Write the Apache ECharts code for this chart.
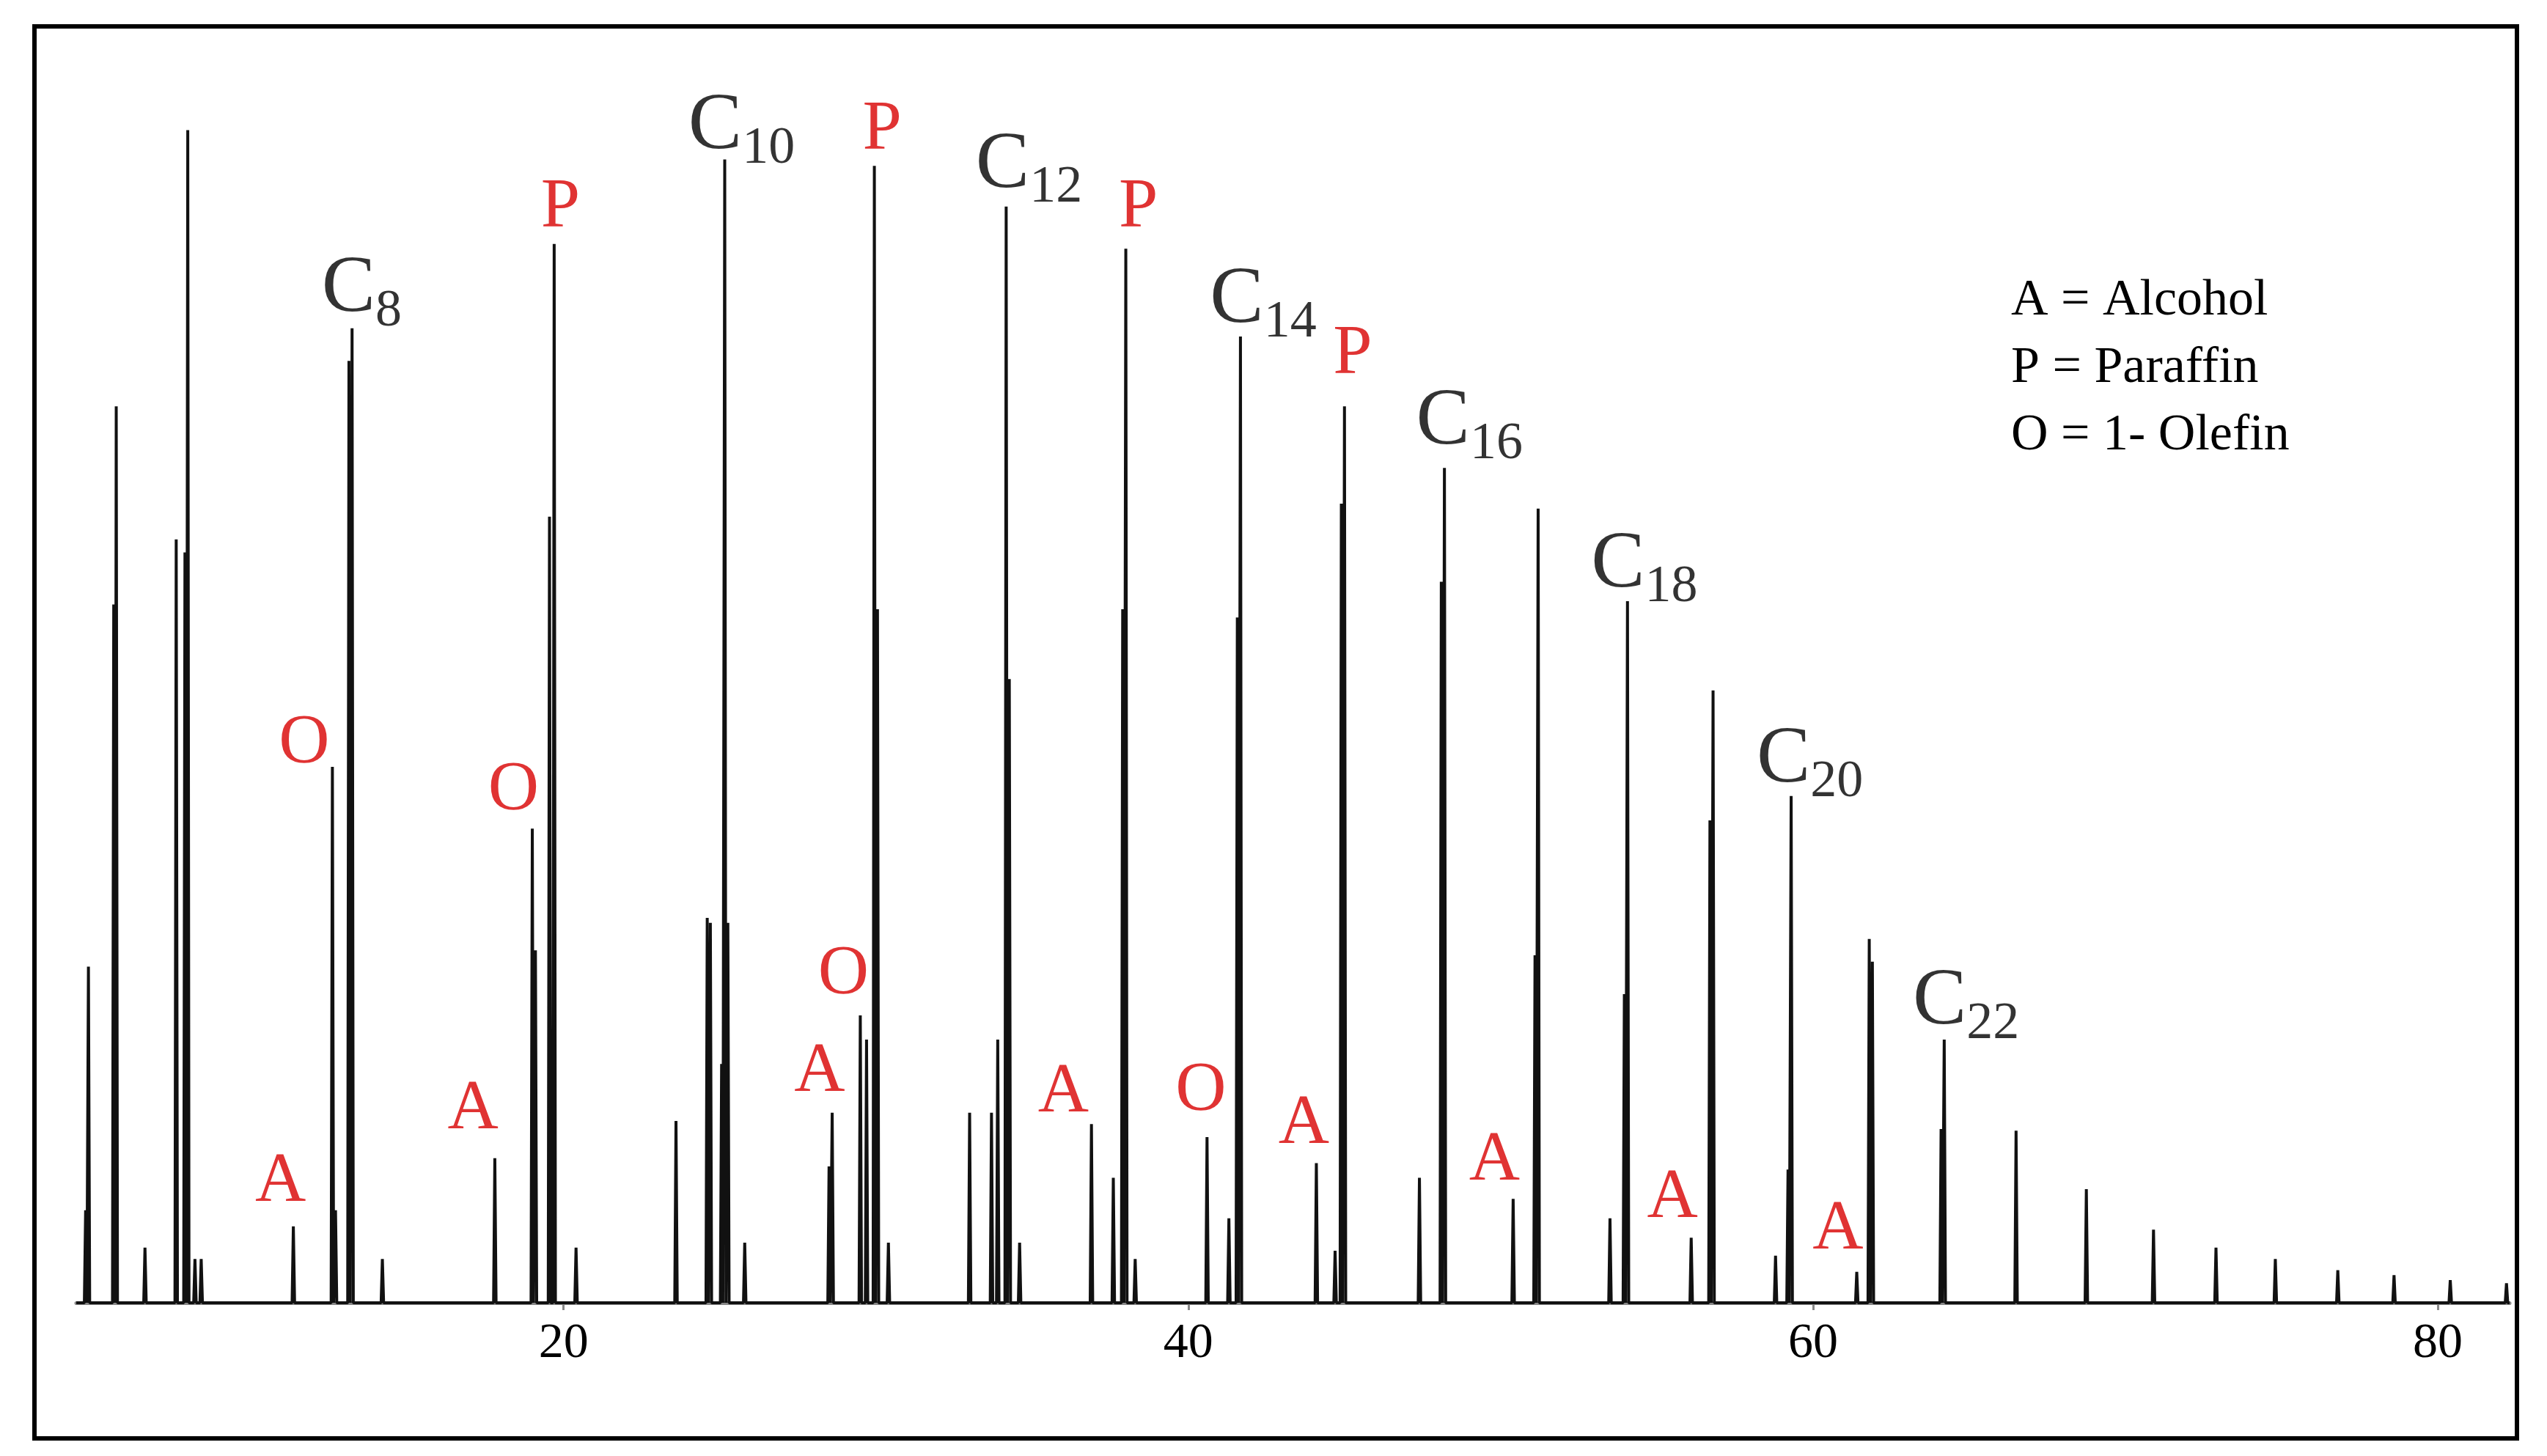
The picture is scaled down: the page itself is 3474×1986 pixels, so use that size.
<html>
<meta charset="utf-8">
<body style="margin:0;background:#fff">
    <div id="main" style="width:3474px;height:1986px;"></div>
</body>
</html>
<script type="text/javascript" src="https://cdn.jsdelivr.net/npm/echarts@6/dist/echarts.min.js"></script>
<script type="text/javascript">

// retention time (min) and peak height of each peak
var peakTime = [4.7, 4.79, 5.6, 5.68, 6.6, 7.6, 7.88, 7.97, 8.2, 8.4, 11.35, 12.6, 12.7, 13.13, 13.23, 14.2,
    17.8, 19.0, 19.1, 19.55, 19.7, 20.4, 23.6, 24.6, 24.7, 25.06, 25.16, 25.26, 25.8,
    28.5, 28.6, 29.5, 29.7, 29.95, 30.05, 30.4, 33.0, 33.7, 33.9, 34.17, 34.27, 34.6,
    36.9, 37.6, 37.9, 38.0, 38.3, 40.6, 41.3, 41.57, 41.67, 44.1, 44.7, 44.9, 45.0,
    47.4, 48.1, 48.2, 50.4, 51.1, 51.2, 53.5, 53.96, 54.06, 56.1, 56.7, 56.8,
    58.8, 59.2, 59.3, 61.4, 61.8, 61.9, 64.1, 64.2, 66.5, 68.75, 70.9, 72.9, 74.8, 76.8, 78.6, 80.4, 82.2];
var peakHeight = [57, 207, 430, 552, 34, 470, 462, 722, 27, 27, 47, 330, 57, 580, 600, 27,
    89, 292, 217, 484, 652, 34, 112, 237, 234, 147, 704, 234, 37,
    84, 117, 177, 162, 700, 427, 37, 117, 117, 162, 675, 384, 37,
    110, 77, 427, 649, 27, 102, 52, 422, 595, 86, 32, 492, 552,
    77, 444, 514, 64, 214, 489, 52, 190, 432, 40, 297, 377,
    29, 82, 312, 19, 224, 210, 107, 162, 106, 70, 45, 34, 27, 20, 17, 14, 12];

var carbonLabels = [['8', 13.54, 624], ['10', 25.7, 724], ['12', 34.9, 700], ['14', 42.4, 617],
    ['16', 49.0, 542], ['18', 54.6, 454], ['20', 59.9, 334], ['22', 64.9, 185]];
var typeLabels = [['A', 10.94, 74], ['O', 11.7, 344], ['A', 17.1, 119], ['O', 18.4, 315], ['P', 19.9, 674],
    ['A', 28.2, 142], ['O', 28.96, 202], ['P', 30.2, 722], ['A', 36.0, 129], ['P', 38.4, 674],
    ['O', 40.4, 130], ['A', 43.7, 110], ['P', 45.26, 584], ['A', 49.8, 87], ['A', 55.5, 64], ['A', 60.8, 45]];
var legendLines = ['A = Alcohol', 'P = Paraffin', 'O = 1- Olefin'];
var tickValues = [20, 40, 60, 80];

var trace = [[4.4, 0]];
for (var i = 0; i < peakTime.length; i++) {
    trace.push([peakTime[i] - 0.04, 0]);
    trace.push([peakTime[i], peakHeight[i]]);
    trace.push([peakTime[i] + 0.04, 0]);
}
trace.push([82.3, 0]);

var serif = 'Liberation Serif';
var myChart = echarts.init(document.getElementById('main'));
var option = {
    animation: false,
    grid: { left: 104, right: 51, top: 89, bottom: 209 },
    xAxis: {
        type: 'value', min: 4.4, max: 82.3,
        axisLine: { lineStyle: { color: '#888', width: 5 } },
        axisTick: { customValues: tickValues, length: 10, lineStyle: { color: '#888', width: 3 } },
        axisLabel: { customValues: tickValues, fontFamily: serif, fontSize: 68, color: '#000', margin: 22 },
        splitLine: { show: false }
    },
    yAxis: { type: 'value', min: 0, max: 762, show: false },
    series: [{
        type: 'line', data: trace, symbol: 'none',
        lineStyle: { color: '#111', width: 4 }
    }, {
        type: 'scatter', symbolSize: 0,
        data: carbonLabels.map(function (d) { return { value: [d[1], d[2]], name: d[0] }; }),
        label: {
            show: true, position: 'inside',
            formatter: function (p) { return '{c|C}{s|' + p.name + '}'; },
            rich: {
                c: { fontFamily: serif, fontSize: 110, color: '#000' },
                s: { fontFamily: serif, fontSize: 72, color: '#000', padding: [60, 0, 0, 0] }
            }
        }
    }, {
        type: 'scatter', symbolSize: 0,
        data: typeLabels.map(function (d) { return { value: [d[1], d[2]], name: d[0] }; }),
        label: {
            show: true, position: 'inside', formatter: '{b}',
            fontFamily: serif, fontSize: 96, color: '#d80000'
        }
    }],
    graphic: [{
        type: 'rect', left: 44, top: 33,
        shape: { width: 3386, height: 1926 },
        style: { fill: 'none', stroke: '#000', lineWidth: 6 }
    }].concat(legendLines.map(function (t, k) {
        return {
            type: 'text', left: 2743, top: 376 + k * 92,
            style: { text: t, font: '70px "Liberation Serif"', fill: '#000' }
        };
    }))
};
myChart.setOption(option);
</script>
